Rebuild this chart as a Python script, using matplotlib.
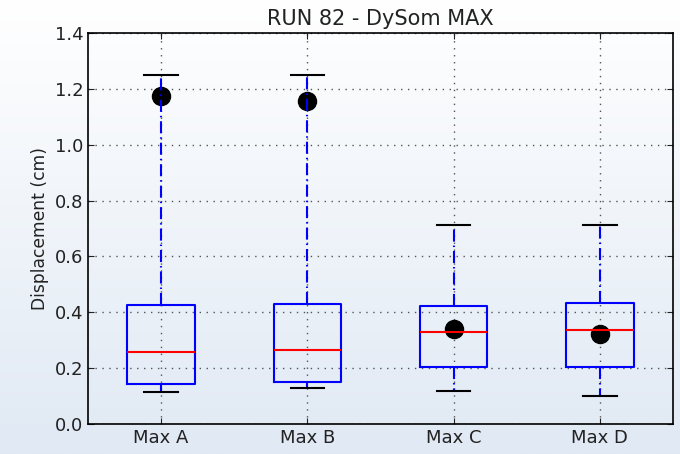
import numpy as np
import matplotlib
matplotlib.use("Agg")
import matplotlib.pyplot as plt
from matplotlib.colors import LinearSegmentedColormap

labels = ["Max A", "Max B", "Max C", "Max D"]
whislo = [0.116, 0.130, 0.118, 0.100]
q1 = [0.144, 0.150, 0.203, 0.204]
med = [0.258, 0.266, 0.330, 0.338]
q3 = [0.425, 0.431, 0.424, 0.432]
whishi = [1.250, 1.250, 0.712, 0.712]
run_value = [1.174, 1.157, 0.341, 0.323]

yticks = [0.0, 0.2, 0.4, 0.6, 0.8, 1.0, 1.2, 1.4]

fig = plt.figure(figsize=(6.8, 4.54), dpi=100)

# gradient background over the whole figure
bg = fig.add_axes([0, 0, 1, 1], zorder=-10)
grad_cmap = LinearSegmentedColormap.from_list("bg", ["#ffffff", "#e0e9f4"])
grad = np.linspace(0, 1, 256).reshape(-1, 1)
bg.imshow(grad, aspect="auto", cmap=grad_cmap, extent=[0, 1, 0, 1], origin="upper")
bg.axis("off")

ax = fig.add_axes([88 / 680, 30 / 454, 585 / 680, 391 / 454])
ax.patch.set_alpha(0)

stats = []
for i in range(len(labels)):
    stats.append(dict(label=labels[i], whislo=whislo[i], q1=q1[i], med=med[i],
                      q3=q3[i], whishi=whishi[i], fliers=[]))

pos = np.arange(1, len(labels) + 1)
ax.plot(pos, run_value, "o", color="black", markersize=13, zorder=2)

ax.bxp(stats, positions=pos, widths=0.46, showfliers=False,
       boxprops=dict(color="blue", linewidth=1.5),
       medianprops=dict(color="red", linewidth=1.5),
       whiskerprops=dict(color="blue", linewidth=1.5, linestyle=(0, (5.8, 1.9, 0.7, 1.9))),
       capprops=dict(color="black", linewidth=1.5),
       zorder=3)

ax.set_xlim(0.5, 4.5)
ax.set_ylim(0, 1.4)
ax.set_yticks(yticks)
ax.set_yticklabels(["%.1f" % v for v in yticks])
ax.grid(True, color="#555555", linestyle=(0, (1, 4)), linewidth=1)
ax.set_axisbelow(True)
ax.tick_params(direction="in", labelsize=13, length=4, top=True, right=True,
               labeltop=False, labelright=False, colors="#222222")
for s in ax.spines.values():
    s.set_linewidth(1.2)
ax.set_ylabel("Displacement (cm)", fontsize=12.3, color="#222222")
ax.set_title("RUN 82 - DySom MAX", fontsize=15, color="#222222")

fig.savefig("out.png", dpi=100)
